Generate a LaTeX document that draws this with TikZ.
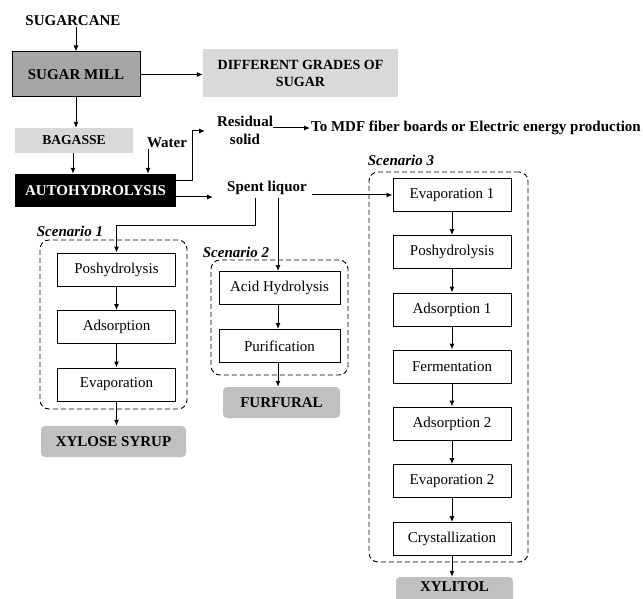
\documentclass[tikz,border=0pt]{standalone}
\usepackage{fontspec}
\setmainfont{Liberation Serif}
\usetikzlibrary{arrows.meta,positioning}
\definecolor{millgray}{HTML}{A6A6A6}
\definecolor{lightgray2}{HTML}{D9D9D9}
\definecolor{prodgray}{HTML}{C0C0C0}
\begin{document}
\begin{tikzpicture}[x=1pt,y=-1pt,
  every node/.style={inner sep=1pt},
  lbl/.style={font=\fontsize{15}{16}\selectfont\bfseries, align=center},
  proc/.style={draw, line width=1pt, minimum width=118pt, minimum height=33pt, font=\fontsize{15}{17}\selectfont},
  prod/.style={fill=prodgray, rounded corners=4pt, minimum height=31pt, font=\fontsize{15}{17}\selectfont\bfseries},
  grp/.style={draw, dash pattern=on 5pt off 3pt, line width=0.9pt, rounded corners=9pt},
  scen/.style={font=\fontsize{15}{17}\selectfont\bfseries\itshape},
  arr/.style={-{Latex[length=6pt,width=5pt]}, line width=1pt},
  ln/.style={line width=1pt}]
\useasboundingbox (0,0) rectangle (643,599);
% top
\node[lbl] (cane) at (73,21) {SUGARCANE};
\node[draw, fill=millgray, line width=1pt, minimum width=128pt, minimum height=45pt, lbl] (mill) at (76,74.5) {SUGAR MILL};
\node[fill=lightgray2, minimum width=195pt, minimum height=48pt, lbl, font=\fontsize{14}{17}\selectfont\bfseries] (grades) at (300.5,73) {DIFFERENT GRADES OF\\SUGAR};
\node[fill=lightgray2, minimum width=118pt, minimum height=25pt, lbl, font=\fontsize{13.6}{15}\selectfont\bfseries] (bag) at (74,140.5) {BAGASSE};
\node[lbl] (water) at (167,143) {Water};
\node[fill=black, text=white, minimum width=161pt, minimum height=33pt, lbl] (auto) at (95.5,190.5) {AUTOHYDROLYSIS};
\node[lbl, font=\fontsize{15}{18}\selectfont\bfseries] (resid) at (245,130) {Residual\\solid};
\node[lbl, anchor=west] (mdf) at (310,128) {To MDF fiber boards or Electric energy production};
\node[lbl] (spent) at (267,188) {Spent liquor};
% scenario 1
\node[proc] (p1) at (116.5,269.5) {Poshydrolysis};
\node[proc] (a1) at (116.5,327) {Adsorption};
\node[proc] (e1) at (116.5,384.5) {Evaporation};
\node[prod, minimum width=145pt] (xyl) at (113.5,441.5) {XYLOSE SYRUP};
\node[grp, minimum width=147pt, minimum height=169pt] (g1) at (113.5,324.5) {};
\node[scen] (s1) at (70,231) {Scenario 1};
% scenario 2
\node[proc, minimum width=121pt] (acid) at (279.5,288) {Acid Hydrolysis};
\node[proc, minimum width=121pt] (pur) at (279.5,346) {Purification};
\node[prod, minimum width=117pt] (fur) at (281.5,402.5) {FURFURAL};
\node[grp, minimum width=137pt, minimum height=115pt] (g2) at (279.5,317.5) {};
\node[scen] (s2) at (236,252) {Scenario 2};
% scenario 3
\node[proc] (ev1) at (452,195) {Evaporation 1};
\node[proc] (p3) at (452,252) {Poshydrolysis};
\node[proc] (ad1) at (452,309.5) {Adsorption 1};
\node[proc] (fer) at (452,366.5) {Fermentation};
\node[proc] (ad2) at (452,423.5) {Adsorption 2};
\node[proc] (ev2) at (452,481) {Evaporation 2};
\node[proc] (cry) at (452,539) {Crystallization};
\node[prod, minimum width=117pt, minimum height=34pt, text depth=14pt] (xol) at (454.5,594) {XYLITOL};
\node[grp, minimum width=159pt, minimum height=390pt] (g3) at (448.5,367) {};
\node[scen] (s3) at (401,160) {Scenario 3};
% connectors
\draw[arr] (cane.south -| mill.north) -- (mill.north);
\draw[arr] (mill.east) -- (mill.east -| grades.west);
\draw[arr] (mill.south) -- (bag.north -| mill.south);
\draw[arr] (bag.south -| 73,0) -- (auto.north -| 73,0);
\draw[arr] (water.south -| 148,0) -- (auto.north -| 148,0);
\coordinate (ar) at (auto.east |- 0,181);
\draw[arr] (ar) -- (192,181) |- (205,131);
\draw[arr] (273,128) -- (mdf.west);
\draw[arr] (auto.east |- 0,197) -- (213,197);
\draw[arr] (312,195) -- (ev1.west);
\draw[arr] (255,198) -- (255,225) -| (p1.north);
\draw[arr] (278,198) -- (acid.north -| 278,0);
\draw[arr] (p1) -- (a1);
\draw[arr] (a1) -- (e1);
\draw[arr] (e1) -- (xyl.north -| e1.south);
\draw[arr] (acid.south -| 278,0) -- (pur.north -| 278,0);
\draw[arr] (pur.south -| 278,0) -- (fur.north -| 278,0);
\draw[arr] (ev1) -- (p3);
\draw[arr] (p3) -- (ad1);
\draw[arr] (ad1) -- (fer);
\draw[arr] (fer) -- (ad2);
\draw[arr] (ad2) -- (ev2);
\draw[arr] (ev2) -- (cry);
\draw[arr] (cry.south) -- (xol.north -| cry.south);
\end{tikzpicture}
\end{document}
